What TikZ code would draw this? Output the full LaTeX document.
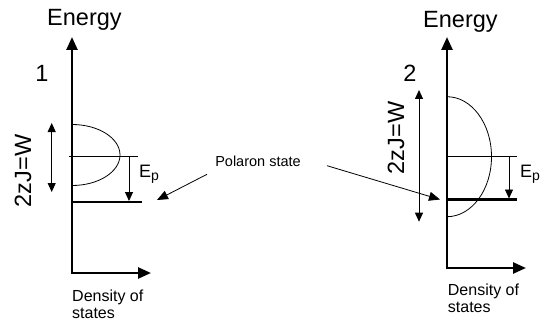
\documentclass[tikz,border=0pt]{standalone}
\usepackage{fontspec}
\setmainfont{Liberation Sans}
\usetikzlibrary{arrows.meta}
\begin{document}
\begin{tikzpicture}[x=1pt,y=-1pt,
  axisline/.style={line width=2.5pt,-{Triangle[length=13pt,width=11pt]}},
  thin/.style={line width=0.8pt},
  level/.style={line width=2.6pt},
  dbl/.style={line width=0.9pt,{Triangle[length=9pt,width=8pt]}-{Triangle[length=9pt,width=8pt]}},
  ep/.style={line width=0.9pt,-{Triangle[length=9pt,width=8pt]}},
  pol/.style={line width=0.8pt,-{Triangle[length=11pt,width=9pt]}},
  big/.style={font=\fontsize{23.5}{26}\selectfont,inner sep=0pt},
  mid/.style={font=\fontsize{16}{19}\selectfont,inner sep=0pt},
  epf/.style={font=\fontsize{18}{21}\selectfont,inner sep=0pt},
  small/.style={font=\fontsize{14.5}{17}\selectfont,inner sep=0pt}]
\useasboundingbox (0,0) rectangle (545,326);
% ---------- left panel ----------
\coordinate (Lo) at (72,273);
\coordinate (Ltop) at (72,37);
\coordinate (Lright) at (151,273);
\draw[axisline] ([yshift=-1.25pt]Lo) -- (Ltop);
\draw[axisline] ([xshift=-1.25pt]Lo) -- (Lright);
\node[big,anchor=base west] (Len) at (47,26) {Energy};
\node[big,anchor=base] (Lone) at (42,82) {1};
\draw[thin] (72,124.5) arc[start angle=-90,end angle=90,x radius=48,y radius=30.5];
\coordinate (Lm1) at (69,156.7);
\coordinate (Lm2) at (138,156.7);
\draw[thin] (Lm1) -- (Lm2);
\coordinate (Lp1) at (72,202);
\coordinate (Lp2) at (142,202);
\draw[level] (Lp1) -- (Lp2);
\coordinate (Le1) at (129,156.7);
\coordinate (Le2) at (129,201);
\draw[ep] (Le1) -- (Le2);
\node[epf,anchor=base west] (Lep) at (139,177) {E\raisebox{-0.4ex}{\fontsize{14}{16}\selectfont p}};
\coordinate (Lw1) at (51.7,123);
\coordinate (Lw2) at (51.7,192);
\draw[dbl] (Lw1) -- (Lw2);
\node[big,rotate=90] (Lw) at (23,171) {2zJ=W};
\node[mid,anchor=north west,align=left] (Lden) at (72,290) {Density of\\[-2pt]states};
% ---------- polaron ----------
\node[small] (pol) at (258,161.5) {Polaron state};
\coordinate (pa1) at (207,174.3);
\coordinate (pa2) at (157,200);
\draw[pol] (pa1) -- (pa2);
\coordinate (pb1) at (327,165.7);
\coordinate (pb2) at (440,199.5);
\draw[pol] (pb1) -- (pb2);
% ---------- right panel ----------
\coordinate (Ro) at (447,268);
\coordinate (Rtop) at (447,37);
\coordinate (Rright) at (526,268);
\draw[axisline] ([yshift=-1.25pt]Ro) -- (Rtop);
\draw[axisline] ([xshift=-1.25pt]Ro) -- (Rright);
\node[big,anchor=base west] (Ren) at (423,28) {Energy};
\node[big,anchor=base] (Rtwo) at (410,82) {2};
\draw[thin] (447,96.7) arc[start angle=-90,end angle=90,x radius=44.5,y radius=60];
\coordinate (Rm1) at (447,156.7);
\coordinate (Rm2) at (516.7,156.7);
\draw[thin] (Rm1) -- (Rm2);
\coordinate (Rp1) at (447,199.5);
\coordinate (Rp2) at (516.7,199.5);
\draw[level] (Rp1) -- (Rp2);
\coordinate (Re1) at (509,156.7);
\coordinate (Re2) at (509,198.5);
\draw[ep] (Re1) -- (Re2);
\node[epf,anchor=base west] (Rep) at (520,177) {E\raisebox{-0.4ex}{\fontsize{14}{16}\selectfont p}};
\coordinate (Rw1) at (419,90);
\coordinate (Rw2) at (419,221.7);
\draw[dbl] (Rw1) -- (Rw2);
\node[big,rotate=90] (Rw) at (396,138) {2zJ=W};
\node[mid,anchor=north west,align=left] (Rden) at (447.7,284) {Density of\\[-2pt]states};
\end{tikzpicture}
\end{document}
